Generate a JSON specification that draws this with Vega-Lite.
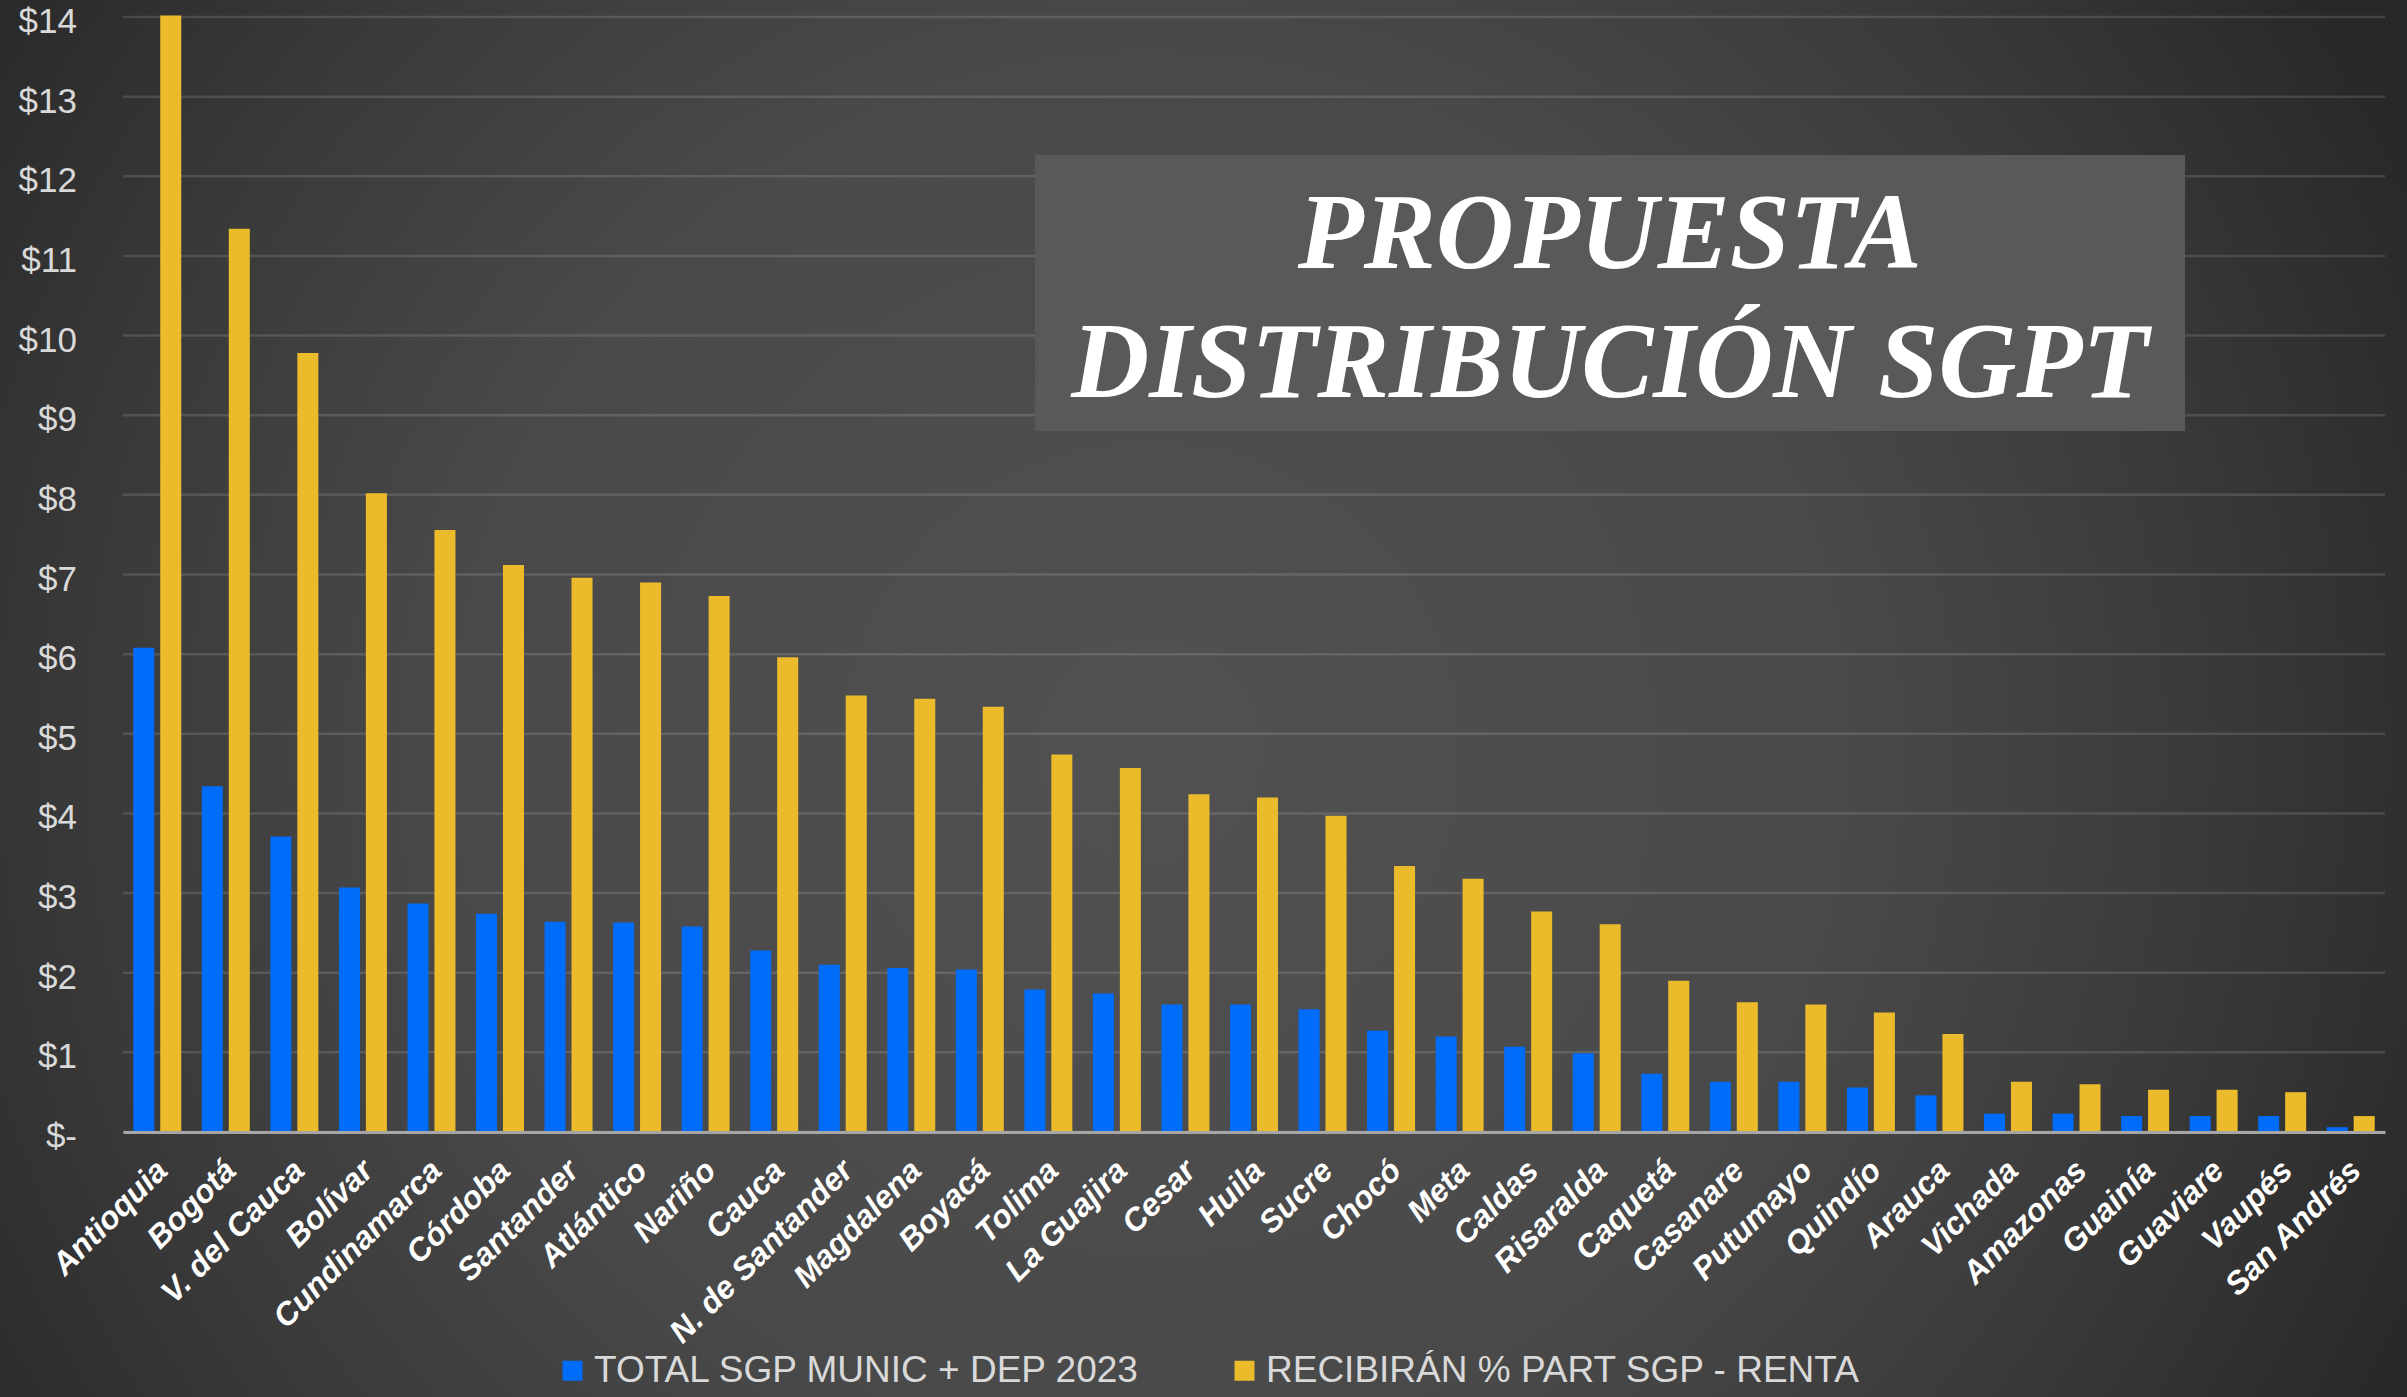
{
  "$schema": "https://vega.github.io/schema/vega-lite/v6.json",
  "width": 2262,
  "height": 1115,
  "autosize": {"type": "none"},
  "padding": {"left": 123, "top": 17, "right": 22, "bottom": 265},
  "background": "#2c2c2c",
  "config": {"view": {"stroke": null}},
  "datasets": {
    "uno": [{}],
    "rejilla": [{"v": 0}, {"v": 1}, {"v": 2}, {"v": 3}, {"v": 4}, {"v": 5}, {"v": 6}, {"v": 7}, {"v": 8}, {"v": 9}, {"v": 10}, {"v": 11}, {"v": 12}, {"v": 13}, {"v": 14}],
    "valores": [
      {"dept": "Antioquia", "serie": "TOTAL SGP MUNIC + DEP 2023", "valor": 6.08},
      {"dept": "Antioquia", "serie": "RECIBIRÁN % PART SGP - RENTA", "valor": 14.02},
      {"dept": "Bogotá", "serie": "TOTAL SGP MUNIC + DEP 2023", "valor": 4.34},
      {"dept": "Bogotá", "serie": "RECIBIRÁN % PART SGP - RENTA", "valor": 11.34},
      {"dept": "V. del Cauca", "serie": "TOTAL SGP MUNIC + DEP 2023", "valor": 3.71},
      {"dept": "V. del Cauca", "serie": "RECIBIRÁN % PART SGP - RENTA", "valor": 9.78},
      {"dept": "Bolívar", "serie": "TOTAL SGP MUNIC + DEP 2023", "valor": 3.07},
      {"dept": "Bolívar", "serie": "RECIBIRÁN % PART SGP - RENTA", "valor": 8.02},
      {"dept": "Cundinamarca", "serie": "TOTAL SGP MUNIC + DEP 2023", "valor": 2.87},
      {"dept": "Cundinamarca", "serie": "RECIBIRÁN % PART SGP - RENTA", "valor": 7.56},
      {"dept": "Córdoba", "serie": "TOTAL SGP MUNIC + DEP 2023", "valor": 2.74},
      {"dept": "Córdoba", "serie": "RECIBIRÁN % PART SGP - RENTA", "valor": 7.12},
      {"dept": "Santander", "serie": "TOTAL SGP MUNIC + DEP 2023", "valor": 2.64},
      {"dept": "Santander", "serie": "RECIBIRÁN % PART SGP - RENTA", "valor": 6.96},
      {"dept": "Atlántico", "serie": "TOTAL SGP MUNIC + DEP 2023", "valor": 2.63},
      {"dept": "Atlántico", "serie": "RECIBIRÁN % PART SGP - RENTA", "valor": 6.90},
      {"dept": "Nariño", "serie": "TOTAL SGP MUNIC + DEP 2023", "valor": 2.58},
      {"dept": "Nariño", "serie": "RECIBIRÁN % PART SGP - RENTA", "valor": 6.73},
      {"dept": "Cauca", "serie": "TOTAL SGP MUNIC + DEP 2023", "valor": 2.28},
      {"dept": "Cauca", "serie": "RECIBIRÁN % PART SGP - RENTA", "valor": 5.96},
      {"dept": "N. de Santander", "serie": "TOTAL SGP MUNIC + DEP 2023", "valor": 2.10},
      {"dept": "N. de Santander", "serie": "RECIBIRÁN % PART SGP - RENTA", "valor": 5.48},
      {"dept": "Magdalena", "serie": "TOTAL SGP MUNIC + DEP 2023", "valor": 2.06},
      {"dept": "Magdalena", "serie": "RECIBIRÁN % PART SGP - RENTA", "valor": 5.44},
      {"dept": "Boyacá", "serie": "TOTAL SGP MUNIC + DEP 2023", "valor": 2.04},
      {"dept": "Boyacá", "serie": "RECIBIRÁN % PART SGP - RENTA", "valor": 5.34},
      {"dept": "Tolima", "serie": "TOTAL SGP MUNIC + DEP 2023", "valor": 1.79},
      {"dept": "Tolima", "serie": "RECIBIRÁN % PART SGP - RENTA", "valor": 4.74},
      {"dept": "La Guajira", "serie": "TOTAL SGP MUNIC + DEP 2023", "valor": 1.74},
      {"dept": "La Guajira", "serie": "RECIBIRÁN % PART SGP - RENTA", "valor": 4.57},
      {"dept": "Cesar", "serie": "TOTAL SGP MUNIC + DEP 2023", "valor": 1.60},
      {"dept": "Cesar", "serie": "RECIBIRÁN % PART SGP - RENTA", "valor": 4.24},
      {"dept": "Huila", "serie": "TOTAL SGP MUNIC + DEP 2023", "valor": 1.60},
      {"dept": "Huila", "serie": "RECIBIRÁN % PART SGP - RENTA", "valor": 4.20},
      {"dept": "Sucre", "serie": "TOTAL SGP MUNIC + DEP 2023", "valor": 1.54},
      {"dept": "Sucre", "serie": "RECIBIRÁN % PART SGP - RENTA", "valor": 3.97},
      {"dept": "Chocó", "serie": "TOTAL SGP MUNIC + DEP 2023", "valor": 1.27},
      {"dept": "Chocó", "serie": "RECIBIRÁN % PART SGP - RENTA", "valor": 3.34},
      {"dept": "Meta", "serie": "TOTAL SGP MUNIC + DEP 2023", "valor": 1.20},
      {"dept": "Meta", "serie": "RECIBIRÁN % PART SGP - RENTA", "valor": 3.18},
      {"dept": "Caldas", "serie": "TOTAL SGP MUNIC + DEP 2023", "valor": 1.07},
      {"dept": "Caldas", "serie": "RECIBIRÁN % PART SGP - RENTA", "valor": 2.77},
      {"dept": "Risaralda", "serie": "TOTAL SGP MUNIC + DEP 2023", "valor": 0.99},
      {"dept": "Risaralda", "serie": "RECIBIRÁN % PART SGP - RENTA", "valor": 2.61},
      {"dept": "Caquetá", "serie": "TOTAL SGP MUNIC + DEP 2023", "valor": 0.73},
      {"dept": "Caquetá", "serie": "RECIBIRÁN % PART SGP - RENTA", "valor": 1.90},
      {"dept": "Casanare", "serie": "TOTAL SGP MUNIC + DEP 2023", "valor": 0.63},
      {"dept": "Casanare", "serie": "RECIBIRÁN % PART SGP - RENTA", "valor": 1.63},
      {"dept": "Putumayo", "serie": "TOTAL SGP MUNIC + DEP 2023", "valor": 0.63},
      {"dept": "Putumayo", "serie": "RECIBIRÁN % PART SGP - RENTA", "valor": 1.60},
      {"dept": "Quindío", "serie": "TOTAL SGP MUNIC + DEP 2023", "valor": 0.56},
      {"dept": "Quindío", "serie": "RECIBIRÁN % PART SGP - RENTA", "valor": 1.50},
      {"dept": "Arauca", "serie": "TOTAL SGP MUNIC + DEP 2023", "valor": 0.46},
      {"dept": "Arauca", "serie": "RECIBIRÁN % PART SGP - RENTA", "valor": 1.23},
      {"dept": "Vichada", "serie": "TOTAL SGP MUNIC + DEP 2023", "valor": 0.23},
      {"dept": "Vichada", "serie": "RECIBIRÁN % PART SGP - RENTA", "valor": 0.63},
      {"dept": "Amazonas", "serie": "TOTAL SGP MUNIC + DEP 2023", "valor": 0.23},
      {"dept": "Amazonas", "serie": "RECIBIRÁN % PART SGP - RENTA", "valor": 0.60},
      {"dept": "Guainía", "serie": "TOTAL SGP MUNIC + DEP 2023", "valor": 0.20},
      {"dept": "Guainía", "serie": "RECIBIRÁN % PART SGP - RENTA", "valor": 0.53},
      {"dept": "Guaviare", "serie": "TOTAL SGP MUNIC + DEP 2023", "valor": 0.20},
      {"dept": "Guaviare", "serie": "RECIBIRÁN % PART SGP - RENTA", "valor": 0.53},
      {"dept": "Vaupés", "serie": "TOTAL SGP MUNIC + DEP 2023", "valor": 0.20},
      {"dept": "Vaupés", "serie": "RECIBIRÁN % PART SGP - RENTA", "valor": 0.50},
      {"dept": "San Andrés", "serie": "TOTAL SGP MUNIC + DEP 2023", "valor": 0.06},
      {"dept": "San Andrés", "serie": "RECIBIRÁN % PART SGP - RENTA", "valor": 0.20}
    ]
  },
  "layer": [
    {
      "data": {"name": "uno"},
      "mark": {
        "type": "rect",
        "fill": {
          "gradient": "radial",
          "x1": 0.4776, "y1": 0.5207, "r1": 0,
          "x2": 0.4776, "y2": 0.5207, "r2": 0.5795,
          "stops": [
            {"offset": 0, "color": "#515151"},
            {"offset": 0.5, "color": "#494949"},
            {"offset": 0.75, "color": "#3a3a3a"},
            {"offset": 1, "color": "#282828"}
          ]
        }
      },
      "encoding": {
        "x": {"datum": -1.85, "type": "quantitative", "scale": {"domain": [0, 33]}, "axis": null},
        "x2": {"datum": 33.4},
        "y": {"datum": 14.25, "type": "quantitative", "scale": {"domain": [0, 14], "nice": false}, "axis": null},
        "y2": {"datum": -3.4}
      }
    },
    {
      "data": {"name": "rejilla"},
      "mark": {"type": "rule", "color": "#ffffff", "opacity": 0.13, "strokeWidth": 2.5},
      "encoding": {
        "y": {"field": "v", "type": "quantitative", "scale": {"domain": [0, 14], "nice": false}, "axis": null}
      }
    },
    {
      "data": {"name": "rejilla"},
      "mark": {"type": "text", "align": "right", "baseline": "middle", "dy": 5, "font": "Liberation Sans", "fontSize": 35, "color": "#d9d9d9"},
      "encoding": {
        "x": {"datum": -0.671, "type": "quantitative", "scale": {"domain": [0, 33]}, "axis": null},
        "y": {"field": "v", "type": "quantitative", "scale": {"domain": [0, 14], "nice": false}, "axis": null},
        "text": {
          "condition": {"test": "datum.v == 0", "value": "$-"},
          "field": "v", "type": "quantitative", "format": "$.0f"
        }
      }
    },
    {
      "data": {"name": "valores"},
      "mark": {"type": "bar"},
      "encoding": {
        "x": {
          "field": "dept", "type": "nominal", "sort": null,
          "scale": {"paddingInner": 0.3, "paddingOuter": 0.15},
          "axis": {
            "title": null, "labelAngle": -45, "labelAlign": "right", "labelBaseline": "middle",
            "labelFont": "Liberation Sans", "labelFontWeight": "bold", "labelFontStyle": "italic",
            "labelFontSize": 32, "labelColor": "#ffffff", "ticks": false,
            "domainColor": "#a6a6a6", "domainWidth": 3, "labelPadding": 33, "labelOffset": 5,
            "zindex": 1, "labelLimit": 0
          }
        },
        "xOffset": {
          "field": "serie", "type": "nominal",
          "sort": ["TOTAL SGP MUNIC + DEP 2023", "RECIBIRÁN % PART SGP - RENTA"],
          "scale": {"paddingInner": 0.22, "paddingOuter": 0}
        },
        "y": {
          "field": "valor", "type": "quantitative",
          "scale": {"domain": [0, 14], "nice": false},
          "axis": null
        },
        "color": {
          "field": "serie", "type": "nominal",
          "scale": {
            "domain": ["TOTAL SGP MUNIC + DEP 2023", "RECIBIRÁN % PART SGP - RENTA"],
            "range": ["#006cfa", "#ecbb2b"]
          },
          "legend": {
            "orient": "none", "legendX": 431, "legendY": 1335, "direction": "horizontal",
            "title": null, "symbolType": "square", "symbolSize": 400, "symbolStrokeWidth": 0,
            "labelFont": "Liberation Sans", "labelFontSize": 37, "labelColor": "#d9d9d9",
            "columnPadding": 85, "labelOffset": 3, "padding": 0, "labelLimit": 0
          }
        }
      }
    },
    {
      "data": {"name": "uno"},
      "mark": {"type": "rect", "fill": "#595959"},
      "encoding": {
        "x": {"datum": 13.305, "type": "quantitative", "scale": {"domain": [0, 33]}, "axis": null},
        "x2": {"datum": 30.083},
        "y": {"datum": 12.267, "type": "quantitative", "scale": {"domain": [0, 14], "nice": false}, "axis": null},
        "y2": {"datum": 8.802}
      }
    },
    {
      "data": {"name": "uno"},
      "mark": {"type": "text", "text": "PROPUESTA", "font": "Liberation Serif", "fontWeight": "bold", "fontStyle": "italic", "fontSize": 108, "color": "#ffffff", "align": "center", "baseline": "alphabetic"},
      "encoding": {
        "x": {"datum": 21.69, "type": "quantitative", "scale": {"domain": [0, 33]}, "axis": null},
        "y": {"datum": 10.848, "type": "quantitative", "scale": {"domain": [0, 14], "nice": false}, "axis": null}
      }
    },
    {
      "data": {"name": "uno"},
      "mark": {"type": "text", "text": "DISTRIBUCIÓN SGPT", "font": "Liberation Serif", "fontWeight": "bold", "fontStyle": "italic", "fontSize": 108, "color": "#ffffff", "align": "center", "baseline": "alphabetic"},
      "encoding": {
        "x": {"datum": 21.69, "type": "quantitative", "scale": {"domain": [0, 33]}, "axis": null},
        "y": {"datum": 9.229, "type": "quantitative", "scale": {"domain": [0, 14], "nice": false}, "axis": null}
      }
    }
  ],
  "resolve": {"scale": {"x": "independent"}}
}
